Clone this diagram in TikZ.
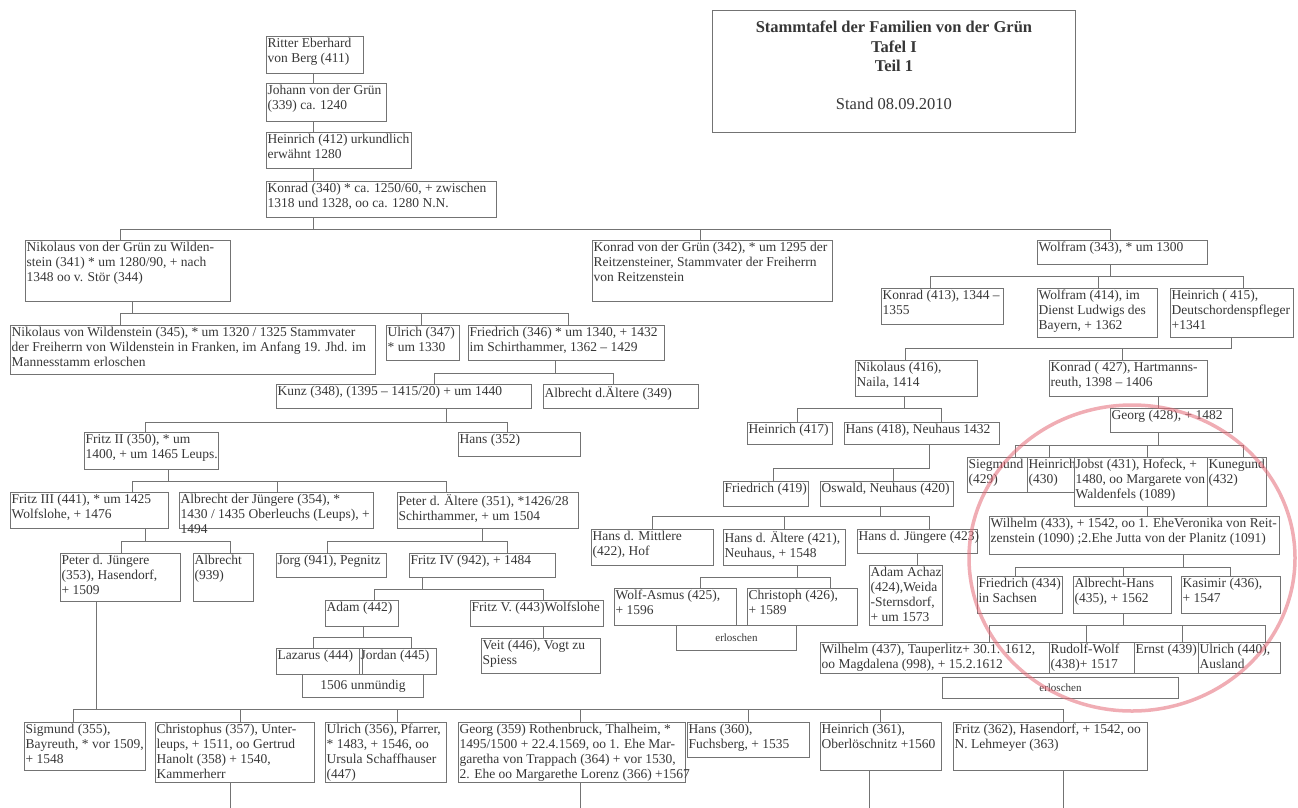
\documentclass[tikz,border=0pt]{standalone}
\usepackage{fontspec}
\setmainfont{Liberation Serif}
\definecolor{liniengrau}{RGB}{115,115,115}
\definecolor{textgrau}{RGB}{55,55,55}
\definecolor{kreisrot}{RGB}{228,105,118}
\tikzset{
  kasten/.style 2 args={draw=liniengrau, line width=0.9pt, minimum width=#1, minimum height=#2,
    anchor=north west, inner sep=0pt, text=textgrau, font=\fontsize{13.5}{15}\selectfont},
  txt/.style={anchor=north west, align=left, inner xsep=1.5pt, inner ysep=2pt, text=textgrau,
    font=\fontsize{13.5}{15}\selectfont},
  titel/.style={anchor=north, align=center, inner ysep=11pt, text=textgrau,
    font=\fontsize{16.5}{19.5}\selectfont},
  klein/.style={font=\fontsize{11}{13}\selectfont},
  linie/.style={draw=liniengrau, line width=0.9pt},
  kreis/.style={draw=kreisrot, line width=3.5pt, opacity=0.55},
}
\begin{document}
\begin{tikzpicture}[x=1pt, y=-1pt]
\useasboundingbox (0,0) rectangle (1298,807);

% Titel
\node[kasten={363}{122}, label={[titel]north:{\textbf{Stammtafel der Familien von der Grün}\\\textbf{Tafel I}\\\textbf{Teil 1}\\[18pt]Stand 08.09.2010}}] (titel) at (712,10) {};

% Stammfolge oben
\node[kasten={97}{37}, label={[txt]north west:{Ritter Eberhard\\von Berg (411)}}] (n411) at (266,36) {};
\node[kasten={120}{38}, label={[txt]north west:{Johann von der Grün\\(339) ca. 1240}}] (n339) at (266,83) {};
\node[kasten={145}{36}, label={[txt]north west:{Heinrich (412) urkundlich\\erwähnt 1280}}] (n412) at (266,132) {};
\node[kasten={230}{36}, label={[txt]north west:{Konrad (340) * ca. 1250/60, + zwischen\\1318 und 1328, oo ca. 1280 N.N.}}] (n340) at (266,181) {};

% drei Linien
\node[kasten={205}{61}, label={[txt]north west:{Nikolaus von der Grün zu Wilden-\\stein (341) * um 1280/90, + nach\\1348 oo v. Stör (344)}}] (n341) at (25,240) {};
\node[kasten={240}{61}, label={[txt]north west:{Konrad von der Grün (342), * um 1295 der\\Reitzensteiner, Stammvater der Freiherrn\\von Reitzenstein}}] (n342) at (592,240) {};
\node[kasten={170}{24}, label={[txt]north west:{Wolfram (343), * um 1300}}] (n343) at (1037,240) {};

% Linie Wildenstein
\node[kasten={365}{49}, label={[txt]north west:{Nikolaus von Wildenstein (345), * um 1320 / 1325 Stammvater\\der Freiherrn von Wildenstein in Franken, im Anfang 19. Jhd. im\\Mannesstamm erloschen}}] (n345) at (10,325) {};
\node[kasten={73}{35}, label={[txt]north west:{Ulrich (347)\\* um 1330}}] (n347) at (386,325) {};
\node[kasten={196}{35}, label={[txt]north west:{Friedrich (346) * um 1340, + 1432\\im Schirthammer, 1362 – 1429}}] (n346) at (468,325) {};
\node[kasten={255}{24}, label={[txt]north west:{Kunz (348), (1395 – 1415/20) + um 1440}}] (n348) at (276,384) {};
\node[kasten={155}{24}, label={[txt]north west:{Albrecht d.Ältere (349)}}] (n349) at (543,384) {};
\node[kasten={134}{37}, label={[txt]north west:{Fritz II (350), * um\\1400, + um 1465 Leups.}}] (n350) at (84,432) {};
\node[kasten={122}{24}, label={[txt]north west:{Hans (352)}}] (n352) at (458,432) {};
\node[kasten={158}{36}, label={[txt]north west:{Fritz III (441), * um 1425\\Wolfslohe, + 1476}}] (n441) at (10,492) {};
\node[kasten={194}{36}, label={[txt]north west:{Albrecht der Jüngere (354), *\\1430 / 1435 Oberleuchs (Leups), +\\1494}}] (n354) at (179,492) {};
\node[kasten={181}{36}, label={[txt]north west:{Peter d. Ältere (351), *1426/28\\Schirthammer, + um 1504}}] (n351) at (397,492) {};
\node[kasten={120}{48}, label={[txt]north west:{Peter d. Jüngere\\(353), Hasendorf,\\+ 1509}}] (n353) at (60,553) {};
\node[kasten={60}{48}, label={[txt]north west:{Albrecht\\(939)}}] (n939) at (193,553) {};
\node[kasten={110}{24}, label={[txt]north west:{Jorg (941), Pegnitz}}] (n941) at (276,553) {};
\node[kasten={146}{24}, label={[txt]north west:{Fritz IV (942), + 1484}}] (n942) at (409,553) {};
\node[kasten={73}{26}, label={[txt]north west:{Adam (442)}}] (n442) at (325,600) {};
\node[kasten={133}{26}, label={[txt]north west:{Fritz V. (443)Wolfslohe}}] (n443) at (470,600) {};
\node[kasten={86}{26}, label={[txt]north west:{Lazarus (444)}}] (n444) at (276,648) {};
\node[kasten={77}{26}, label={[txt]north west:{Jordan (445)}}] (n445) at (359,648) {};
\node[kasten={121}{23}] (unm) at (302,674) {1506 unmündig};
\node[kasten={119}{35}, label={[txt]north west:{Veit (446), Vogt zu\\Spiess}}] (n446) at (481,638) {};

% Linie Wolfram
\node[kasten={122}{36}, label={[txt]north west:{Konrad (413), 1344 –\\1355}}] (n413) at (881,288) {};
\node[kasten={120}{49}, label={[txt]north west:{Wolfram (414), im\\Dienst Ludwigs des\\Bayern, + 1362}}] (n414) at (1037,288) {};
\node[kasten={123}{49}, label={[txt]north west:{Heinrich ( 415),\\Deutschordenspfleger\\+1341}}] (n415) at (1170,288) {};
\node[kasten={122}{36}, label={[txt]north west:{Nikolaus (416),\\Naila, 1414}}] (n416) at (855,360) {};
\node[kasten={158}{36}, label={[txt]north west:{Konrad ( 427), Hartmanns-\\reuth, 1398 – 1406}}] (n427) at (1049,360) {};
\node[kasten={85}{22}, label={[txt]north west:{Heinrich (417)}}] (n417) at (747,422) {};
\node[kasten={155}{22}, label={[txt]north west:{Hans (418), Neuhaus 1432}}] (n418) at (844,422) {};
\node[kasten={85}{25}, label={[txt]north west:{Friedrich (419)}}] (n419) at (723,481) {};
\node[kasten={133}{25}, label={[txt]north west:{Oswald, Neuhaus (420)}}] (n420) at (820,481) {};
\node[kasten={122}{36}, label={[txt]north west:{Hans d. Mittlere\\(422), Hof}}] (n422) at (591,529) {};
\node[kasten={122}{36}, label={[txt]north west:{Hans d. Ältere (421),\\Neuhaus, + 1548}}] (n421) at (723,529) {};
\node[kasten={120}{24}, label={[txt]north west:{Hans d. Jüngere (423)}}] (n423) at (857,529) {};
\node[kasten={73}{60}, label={[txt]north west:{Adam Achaz\\(424),Weida\\-Sternsdorf,\\+ um 1573}}] (n424) at (869,565) {};
\node[kasten={122}{37}, label={[txt]north west:{Wolf-Asmus (425),\\+ 1596}}] (n425) at (614,588) {};
\node[kasten={110}{37}, label={[txt]north west:{Christoph (426),\\+ 1589}}] (n426) at (747,588) {};
\node[kasten={120}{25}, klein] (erl1) at (676,625) {erloschen};
\node[kasten={122}{24}, label={[txt]north west:{Georg (428), + 1482}}] (n428) at (1110,408) {};
\node[kasten={60}{35}, label={[txt]north west:{Siegmund\\(429)}}] (n429) at (967,457) {};
\node[kasten={47}{35}, label={[txt]north west:{Heinrich\\(430)}}] (n430) at (1027,457) {};
\node[kasten={133}{49}, label={[txt]north west:{Jobst (431), Hofeck, +\\1480, oo Margarete von\\Waldenfels (1089)}}] (n431) at (1074,457) {};
\node[kasten={59}{49}, label={[txt]north west:{Kunegund\\(432)}}] (n432) at (1207,457) {};
\node[kasten={290}{38}, label={[txt]north west:{Wilhelm (433), + 1542, oo 1. EheVeronika von Reit-\\zenstein (1090) ;2.Ehe Jutta von der Planitz (1091)}}] (n433) at (989,516) {};
\node[kasten={85}{37}, label={[txt]north west:{Friedrich (434)\\in Sachsen}}] (n434) at (977,576) {};
\node[kasten={98}{37}, label={[txt]north west:{Albrecht-Hans\\(435), + 1562}}] (n435) at (1073,576) {};
\node[kasten={99}{37}, label={[txt]north west:{Kasimir (436),\\+ 1547}}] (n436) at (1181,576) {};
\node[kasten={229}{31}, label={[txt]north west:{Wilhelm (437), Tauperlitz+ 30.1. 1612,\\oo Magdalena (998), + 15.2.1612}}] (n437) at (820,642) {};
\node[kasten={85}{31}, label={[txt]north west:{Rudolf-Wolf\\(438)+ 1517}}] (n438) at (1049,642) {};
\node[kasten={64}{31}, label={[txt]north west:{Ernst (439)}}] (n439) at (1134,642) {};
\node[kasten={82}{31}, label={[txt]north west:{Ulrich (440),\\Ausland}}] (n440) at (1198,642) {};
\node[kasten={236}{21}, klein] (erl2) at (942,677) {erloschen};

% unterste Reihe
\node[kasten={121}{48}, label={[txt]north west:{Sigmund (355),\\Bayreuth, * vor 1509,\\+ 1548}}] (n355) at (24,722) {};
\node[kasten={159}{60}, label={[txt]north west:{Christophus (357), Unter-\\leups, + 1511, oo Gertrud\\Hanolt (358) + 1540,\\Kammerherr}}] (n357) at (155,722) {};
\node[kasten={121}{60}, label={[txt]north west:{Ulrich (356), Pfarrer,\\* 1483, + 1546, oo\\Ursula Schaffhauser\\(447)}}] (n356) at (325,722) {};
\node[kasten={227}{60}, label={[txt]north west:{Georg (359) Rothenbruck, Thalheim, *\\1495/1500 + 22.4.1569, oo 1. Ehe Mar-\\garetha von Trappach (364) + vor 1530,\\2. Ehe oo Margarethe Lorenz (366) +1567}}] (n359) at (458,722) {};
\node[kasten={122}{35}, label={[txt]north west:{Hans (360),\\Fuchsberg, + 1535}}] (n360) at (687,722) {};
\node[kasten={121}{48}, label={[txt]north west:{Heinrich (361),\\Oberlöschnitz +1560}}] (n361) at (820,722) {};
\node[kasten={194}{48}, label={[txt]north west:{Fritz (362), Hasendorf, + 1542, oo\\N. Lehmeyer (363)}}] (n362) at (953,722) {};

% Verbindungen
\draw[linie] ([xshift=47]n411.south west) -- ([xshift=47]n339.north west);
\draw[linie] ([xshift=47]n339.south west) -- ([xshift=47]n412.north west);
\draw[linie] ([xshift=47]n412.south west) -- ([xshift=47]n340.north west);
\draw[linie] ([xshift=47]n340.south west) -- ++(0,12) coordinate (b340);
\draw[linie] (b340) -| ([xshift=95]n341.north west);
\draw[linie] (b340) -| ([xshift=108]n342.north west);
\draw[linie] (b340) -| ([xshift=73]n343.north west);

\draw[linie] ([xshift=107]n341.south west) -- ++(0,12) coordinate (b341);
\draw[linie] (b341) -| ([xshift=110]n345.north west);
\draw[linie] (b341) -| ([xshift=35]n347.north west);
\draw[linie] (b341) -| ([xshift=100]n346.north west);

\draw[linie] ([xshift=87]n346.south west) -- ++(0,13) coordinate (b346);
\draw[linie] (b346) -| ([xshift=158]n348.north west);
\draw[linie] (b346) -| ([xshift=70]n349.north west);

\draw[linie] ([xshift=170]n348.south west) -- ++(0,14) coordinate (b348);
\draw[linie] (b348) -| ([xshift=61]n350.north west);
\draw[linie] (b348) -| ([xshift=49]n352.north west);

\draw[linie] ([xshift=84]n350.south west) -- ++(0,12) coordinate (b350);
\draw[linie] (b350) -| ([xshift=122]n441.north west);
\draw[linie] (b350) -| ([xshift=98]n354.north west);
\draw[linie] (b350) -| ([xshift=49]n351.north west);

\draw[linie] ([xshift=135]n441.south west) -- ++(0,13) coordinate (b441);
\draw[linie] (b441) -| ([xshift=61]n353.north west);
\draw[linie] (b441) -| ([xshift=37]n939.north west);

\draw[linie] ([xshift=85]n351.south west) -- ++(0,13) coordinate (b351);
\draw[linie] (b351) -| ([xshift=51]n941.north west);
\draw[linie] (b351) -| ([xshift=98]n942.north west);

\draw[linie] ([xshift=13]n942.south west) -- ++(0,12) coordinate (b942);
\draw[linie] (b942) -| ([xshift=49]n442.north west);
\draw[linie] (b942) -| ([xshift=73]n443.north west);

\draw[linie] ([xshift=38]n442.south west) -- ++(0,11) coordinate (b442);
\draw[linie] (b442) -| ([xshift=37]n444.north west);
\draw[linie] (b442) -| ([xshift=52]n445.north west);

\draw[linie] ([xshift=73]n443.south west) -- ([xshift=62]n446.north west);

\draw[linie] ([xshift=36]n353.south west) -- ++(0,108) coordinate (b353);
\draw[linie] (b353) -| ([xshift=49]n355.north west);
\draw[linie] (b353) -| ([xshift=85]n357.north west);
\draw[linie] (b353) -| ([xshift=72]n356.north west);
\draw[linie] (b353) -| ([xshift=122]n359.north west);
\draw[linie] (b353) -| ([xshift=61]n360.north west);
\draw[linie] (b353) -| ([xshift=60]n361.north west);
\draw[linie] (b353) -| ([xshift=110]n362.north west);

\draw[linie] ([xshift=75]n357.south west) -- ++(0,25);
\draw[linie] ([xshift=122]n359.south west) -- ++(0,25);
\draw[linie] ([xshift=49]n361.south west) -- ++(0,37);
\draw[linie] ([xshift=110]n362.south west) -- ++(0,37);

\draw[linie] ([xshift=73]n343.south west) -- ++(0,12) coordinate (b343);
\draw[linie] (b343) -| ([xshift=49]n413.north west);
\draw[linie] (b343) -| ([xshift=61]n414.north west);
\draw[linie] (b343) -| ([xshift=73]n415.north west);

\draw[linie] ([xshift=61]n415.south west) -- ++(0,11) coordinate (b415);
\draw[linie] (b415) -| ([xshift=50]n416.north west);
\draw[linie] (b415) -| ([xshift=73]n427.north west);

\draw[linie] ([xshift=49]n416.south west) -- ++(0,12) coordinate (b416);
\draw[linie] (b416) -| ([xshift=50]n417.north west);
\draw[linie] (b416) -| ([xshift=97]n418.north west);

\draw[linie] ([xshift=85]n418.south west) -- ++(0,24) coordinate (b418);
\draw[linie] (b418) -| ([xshift=50]n419.north west);
\draw[linie] (b418) -| ([xshift=73]n420.north west);

\draw[linie] ([xshift=60]n420.south west) -- ++(0,10) coordinate (b420);
\draw[linie] (b420) -| ([xshift=61]n422.north west);
\draw[linie] (b420) -| ([xshift=61]n421.north west);
\draw[linie] (b420) -| ([xshift=72]n423.north west);

\draw[linie] ([xshift=74]n421.south west) -- ++(0,12) coordinate (b421);
\draw[linie] (b421) -| ([xshift=86]n425.north west);
\draw[linie] (b421) -| ([xshift=83]n426.north west);

\draw[linie] ([xshift=60]n423.south west) -- ([xshift=48]n424.north west);

\draw[linie] ([xshift=109]n427.south west) -- ([xshift=48]n428.north west);

\draw[linie] ([xshift=48]n428.south west) -- ++(0,13) coordinate (b428);
\draw[linie] (b428) -| ([xshift=48]n429.north west);
\draw[linie] (b428) -| ([xshift=22]n430.north west);
\draw[linie] (b428) -| ([xshift=73]n431.north west);
\draw[linie] (b428) -| ([xshift=36]n432.north west);

\draw[linie] ([xshift=73]n431.south west) -- ([xshift=158]n433.north west);

\draw[linie] ([xshift=194]n433.south west) -- ++(0,13) coordinate (b433);
\draw[linie] (b433) -| ([xshift=38]n434.north west);
\draw[linie] (b433) -| ([xshift=50]n435.north west);
\draw[linie] (b433) -| ([xshift=49]n436.north west);

\draw[linie] ([xshift=50]n435.south west) -- ++(0,12) coordinate (b435);
\draw[linie] (b435) -| ([xshift=169]n437.north west);
\draw[linie] (b435) -| ([xshift=37]n438.north west);
\draw[linie] (b435) -| ([xshift=48]n439.north west);
\draw[linie] (b435) -| ([xshift=67]n440.north west);

% Markierung
\draw[kreis] (1132,558) ellipse [x radius=163pt, y radius=153pt];
\end{tikzpicture}
\end{document}
